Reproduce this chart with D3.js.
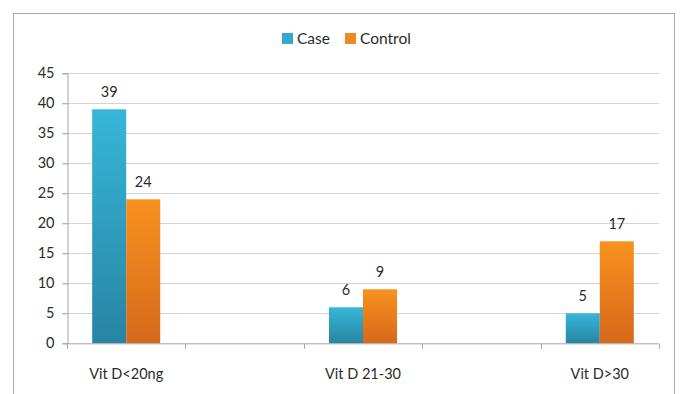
<!DOCTYPE html>
<html><head><meta charset="utf-8">
<script src="https://cdn.jsdelivr.net/npm/d3@7"></script>
<style>body{margin:0;background:#fff;} svg{display:block;font-family:Lato,"Open Sans",sans-serif;}</style>
</head><body>
<svg id="c" width="681" height="394"></svg>
<script>
const categories = ["Vit D<20ng", "", "Vit D 21-30", "", "Vit D>30"];
const seriesNames = ["Case", "Control"];
const caseValues = [39, null, 6, null, 5];
const controlValues = [24, null, 9, null, 17];
const yTicks = [0, 5, 10, 15, 20, 25, 30, 35, 40, 45];

(function(){
const svg = d3.select("#c");
const defs = svg.append("defs");
function grad(id, c1, c2) {
  const g = defs.append("linearGradient").attr("id", id).attr("x1", 0).attr("y1", 0).attr("x2", 0).attr("y2", 1);
  g.append("stop").attr("offset", "0%").attr("stop-color", c1);
  g.append("stop").attr("offset", "100%").attr("stop-color", c2);
}
grad("gCase", "#37b6d9", "#2884a2");
grad("gCtrl", "#f8921f", "#d6681b");
const fills = ["url(#gCase)", "url(#gCtrl)"];
const legendColors = ["#31a9cb", "#f08a24"];
const txt = "#2b2b2b";

svg.append("rect").attr("x", 13.5).attr("y", 13.5).attr("width", 661).attr("height", 400)
  .attr("fill", "#fff").attr("stroke", "#a9a9a9").attr("stroke-width", 1);

const pl = 67, pr = 659, pt = 73.3, pb = 343.3;
const x = d3.scaleBand().domain(d3.range(categories.length)).range([pl, pr]).paddingInner(0).paddingOuter(0);
const y = d3.scaleLinear().domain([0, 45]).range([pb, pt]);
const xs = d3.scaleBand().domain(seriesNames).range([0, x.bandwidth()]).paddingInner(0).paddingOuter(0.74);

svg.append("g").selectAll("line").data(yTicks.filter(d => d > 0)).join("line")
  .attr("x1", pl - 5).attr("x2", pr).attr("y1", d => Math.round(y(d)) + 0.5).attr("y2", d => Math.round(y(d)) + 0.5)
  .attr("stroke", "#d4d4d4");

const yAxis = svg.append("g").attr("transform", `translate(${pl + 0.5},0)`)
  .call(d3.axisLeft(y).tickValues(yTicks).tickSize(5).tickPadding(8));
yAxis.select(".domain").attr("stroke", "#a6a6a6");
yAxis.selectAll(".tick line").attr("stroke", "#a6a6a6");
yAxis.selectAll("text").attr("font-size", 14.5).attr("fill", txt).attr("font-family", "Lato,'Open Sans',sans-serif");

const data = categories.map((c, i) => ({i, vals: [caseValues[i], controlValues[i]]}));
const groups = svg.append("g").selectAll("g").data(data).join("g")
  .attr("transform", d => `translate(${x(d.i)},0)`);
groups.selectAll("rect").data(d => d.vals.map((v, k) => ({v, k})).filter(e => e.v != null)).join("rect")
  .attr("x", e => xs(seriesNames[e.k])).attr("width", xs.bandwidth())
  .attr("y", e => y(e.v)).attr("height", e => y(0) - y(e.v))
  .attr("fill", e => fills[e.k]);
groups.selectAll("text").data(d => d.vals.map((v, k) => ({v, k})).filter(e => e.v != null)).join("text")
  .attr("x", e => xs(seriesNames[e.k]) + xs.bandwidth() / 2).attr("y", e => y(e.v) - 12)
  .attr("text-anchor", "middle").attr("font-size", 14.5).attr("fill", txt).text(e => e.v);

const xAxis = svg.append("g").attr("transform", `translate(0,${pb + 0.5})`);
xAxis.append("line").attr("x1", pl).attr("x2", pr).attr("stroke", "#a6a6a6");
const bounds = d3.range(categories.length + 1).map(i => i < categories.length ? x(i) : pr);
xAxis.selectAll("line.t").data(bounds).join("line").attr("class", "t")
  .attr("x1", d => Math.round(d) + 0.5).attr("x2", d => Math.round(d) + 0.5).attr("y1", 0).attr("y2", 5).attr("stroke", "#a6a6a6");
xAxis.selectAll("text").data(categories).join("text")
  .attr("x", (d, i) => x(i) + x.bandwidth() / 2).attr("y", 35)
  .attr("text-anchor", "middle").attr("font-size", 14.5).attr("fill", txt).text(d => d);

const legend = svg.append("g");
const legendItems = [{name: seriesNames[0], x: 282}, {name: seriesNames[1], x: 345}];
legendItems.forEach((it, k) => {
  legend.append("rect").attr("x", it.x).attr("y", 33).attr("width", 11).attr("height", 11).attr("fill", legendColors[k]);
  legend.append("text").attr("x", it.x + 15).attr("y", 44).attr("font-size", 15.5).attr("fill", txt).text(it.name);
});
})();
</script>
</body></html>
